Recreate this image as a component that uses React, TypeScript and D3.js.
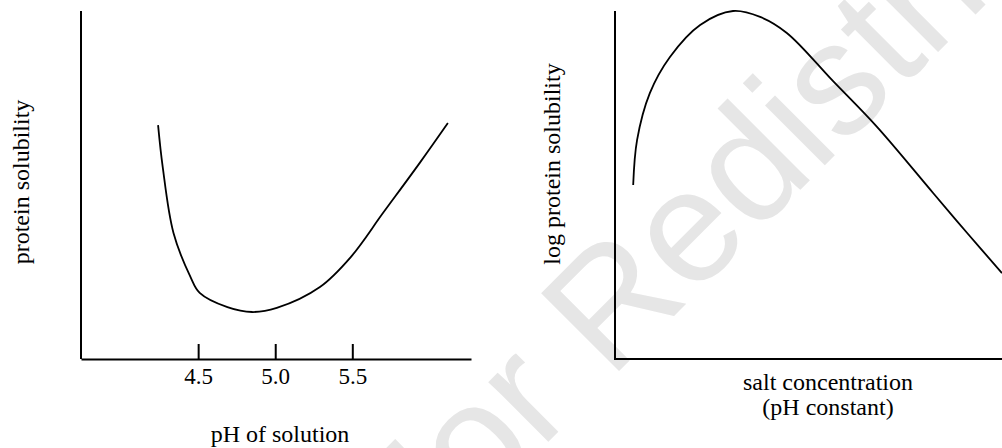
import React, { useEffect, useRef } from "react";
import * as d3 from "d3";

// left panel: protein solubility vs pH
const phValues = [4.24, 4.27, 4.34, 4.45, 4.51, 4.69, 4.85, 5.01, 5.29, 5.49, 5.7, 5.94, 6.12];
const solubility = [67.2, 55.2, 36.2, 23.6, 19.0, 14.9, 13.5, 14.7, 20.7, 29.3, 42.0, 56.5, 67.8];
const phTicks = [4.5, 5.0, 5.5];

// right panel: log protein solubility vs salt concentration
const saltConc = [0.47, 0.57, 0.9, 1.42, 2.2, 3.05, 3.75, 4.44, 5.63, 6.77, 8.22, 9.1, 10.0];
const logSolubility = [50.0, 62.9, 76.4, 86.8, 96.0, 100, 98.3, 93.7, 79.9, 66.7, 47.7, 36.2, 24.7];

const watermark = "Not For Redistribution";

const width = 1002;
const height = 448;
const font = "'Liberation Serif', 'Times New Roman', serif";

const App = () => {
  const svgRef = useRef(null);

  useEffect(() => {
    const svg = d3.select(svgRef.current);
    svg.selectAll("*").remove();

    // watermark behind everything
    svg
      .append("text")
      .attr("transform", "translate(201,789) rotate(-45)")
      .attr("font-family", "'Liberation Sans', Arial, sans-serif")
      .attr("font-size", 160)
      .attr("fill", "#e6e6e6")
      .text(watermark);

    // ---- left chart ----
    const x1 = d3.scaleLinear().domain([3.74, 6.27]).range([81, 471]);
    const y1 = d3.scaleLinear().domain([0, 100]).range([359, 11]);

    const left = svg.append("g");
    left
      .append("line")
      .attr("x1", x1.range()[0])
      .attr("x2", x1.range()[0])
      .attr("y1", y1(100))
      .attr("y2", y1(0))
      .attr("stroke", "#000")
      .attr("stroke-width", 2);

    const xAxis = left
      .append("g")
      .attr("transform", `translate(0,${y1(0)})`)
      .call(
        d3
          .axisBottom(x1)
          .tickValues(phTicks)
          .tickFormat(d3.format(".1f"))
          .tickSizeInner(-15)
          .tickSizeOuter(0)
          .tickPadding(9)
      );
    xAxis.select(".domain").attr("stroke", "#000").attr("stroke-width", 2);
    xAxis.selectAll(".tick line").attr("stroke", "#000").attr("stroke-width", 2);
    xAxis
      .selectAll(".tick text")
      .attr("fill", "#000")
      .attr("font-family", font)
      .attr("font-size", 23);

    const line1 = d3
      .line<number>()
      .x((d) => x1(d))
      .y((d, i) => y1(solubility[i]))
      .curve(d3.curveCatmullRom.alpha(0.5));

    left
      .append("path")
      .attr("d", line1(phValues))
      .attr("fill", "none")
      .attr("stroke", "#000")
      .attr("stroke-width", 1.8);

    left
      .append("text")
      .attr("transform", "translate(29,182) rotate(-90)")
      .attr("text-anchor", "middle")
      .attr("font-family", font)
      .attr("font-size", 24)
      .text("protein solubility");

    left
      .append("text")
      .attr("x", 280)
      .attr("y", 442)
      .attr("text-anchor", "middle")
      .attr("font-family", font)
      .attr("font-size", 24)
      .text("pH of solution");

    // ---- right chart ----
    const x2 = d3.scaleLinear().domain([0, 10]).range([615, 1002]);
    const y2 = d3.scaleLinear().domain([0, 100]).range([359, 11]);

    const right = svg.append("g");
    right
      .append("line")
      .attr("x1", x2(0))
      .attr("x2", x2(0))
      .attr("y1", y2(100))
      .attr("y2", y2(0))
      .attr("stroke", "#000")
      .attr("stroke-width", 2);
    right
      .append("line")
      .attr("x1", x2(0) - 1)
      .attr("x2", x2(10.5))
      .attr("y1", y2(0))
      .attr("y2", y2(0))
      .attr("stroke", "#000")
      .attr("stroke-width", 2);

    const line2 = d3
      .line<number>()
      .x((d) => x2(d))
      .y((d, i) => y2(logSolubility[i]))
      .curve(d3.curveCatmullRom.alpha(0.5));

    right
      .append("path")
      .attr("d", line2(saltConc))
      .attr("fill", "none")
      .attr("stroke", "#000")
      .attr("stroke-width", 1.8);

    right
      .append("text")
      .attr("transform", "translate(560,164) rotate(-90)")
      .attr("text-anchor", "middle")
      .attr("font-family", font)
      .attr("font-size", 24)
      .text("log protein solubility");

    right
      .append("text")
      .attr("x", 828)
      .attr("y", 390)
      .attr("text-anchor", "middle")
      .attr("font-family", font)
      .attr("font-size", 24)
      .text("salt concentration");
    right
      .append("text")
      .attr("x", 828)
      .attr("y", 415)
      .attr("text-anchor", "middle")
      .attr("font-family", font)
      .attr("font-size", 24)
      .text("(pH constant)");
  }, []);

  return (
    <svg
      ref={svgRef}
      width={width}
      height={height}
      style={{ position: "absolute", left: 0, top: 0, background: "#fff" }}
    />
  );
};

export default App;
